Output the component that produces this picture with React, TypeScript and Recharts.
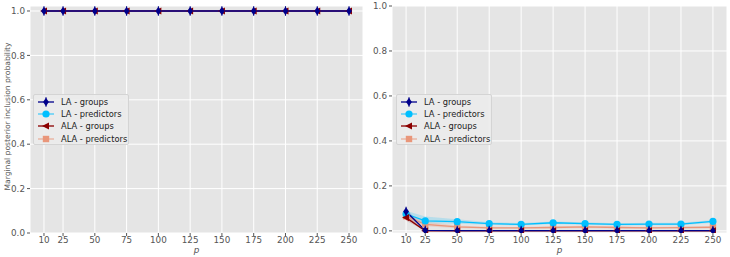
import React from 'react';
import {
  ComposedChart,
  Line,
  Area,
  XAxis,
  YAxis,
  CartesianGrid,
  Legend,
  Label,
} from 'recharts';

const P_VALUES = [10, 25, 50, 75, 100, 125, 150, 175, 200, 225, 250];
const Y_TICKS = [0, 0.2, 0.4, 0.6, 0.8, 1.0];

// left panel: groups only, everything sits at 1.0
const LEFT_LA_GROUPS = [1, 1, 1, 1, 1, 1, 1, 1, 1, 1, 1];
const LEFT_ALA_GROUPS = [1, 1, 1, 1, 1, 1, 1, 1, 1, 1, 1];

// right panel
const RIGHT_LA_GROUPS = [0.086, 0.002, 0.001, 0.001, 0.001, 0.001, 0.001, 0.001, 0.001, 0.001, 0.001];
const RIGHT_LA_PRED = [0.075, 0.044, 0.041, 0.032, 0.029, 0.036, 0.032, 0.029, 0.03, 0.03, 0.042];
const RIGHT_ALA_GROUPS = [0.059, 0, 0, 0, 0, 0, 0, 0, 0, 0, 0];
const RIGHT_ALA_PRED = [0.065, 0.029, 0.018, 0.013, 0.013, 0.015, 0.018, 0.015, 0.013, 0.014, 0.016];

const LA_PRED_LO = [0.06, 0.034, 0.032, 0.027, 0.024, 0.03, 0.027, 0.024, 0.025, 0.025, 0.036];
const LA_PRED_HI = [0.09, 0.064, 0.052, 0.038, 0.035, 0.042, 0.038, 0.034, 0.036, 0.036, 0.048];
const ALA_PRED_LO = [0.05, 0.02, 0.012, 0.009, 0.009, 0.01, 0.012, 0.01, 0.009, 0.01, 0.011];
const ALA_PRED_HI = [0.08, 0.04, 0.024, 0.018, 0.017, 0.02, 0.023, 0.02, 0.017, 0.019, 0.021];
const LA_GROUPS_LO = [0.07, 0, 0, 0, 0, 0, 0, 0, 0, 0, 0];
const LA_GROUPS_HI = [0.1, 0.004, 0.002, 0.002, 0.002, 0.002, 0.002, 0.002, 0.002, 0.002, 0.002];
const ALA_GROUPS_LO = [0.045, 0, 0, 0, 0, 0, 0, 0, 0, 0, 0];
const ALA_GROUPS_HI = [0.072, 0.002, 0.001, 0.001, 0.001, 0.001, 0.001, 0.001, 0.001, 0.001, 0.001];

const SERIES_NAMES = ['LA - groups', 'LA - predictors', 'ALA - groups', 'ALA - predictors'];

const C_LA_G = '#00008b';
const C_LA_P = '#00bfff';
const C_ALA_G = '#8b0000';
const C_ALA_P = '#e9967a';
const SERIES_COLORS = [C_LA_G, C_LA_P, C_ALA_G, C_ALA_P];

const FONT = '"DejaVu Sans", sans-serif';
const TICK_COLOR = '#555555';

const leftData = P_VALUES.map((p, i) => ({
  p,
  laG: LEFT_LA_GROUPS[i],
  alaG: LEFT_ALA_GROUPS[i],
}));

const rightData = P_VALUES.map((p, i) => ({
  p,
  laG: RIGHT_LA_GROUPS[i],
  laP: RIGHT_LA_PRED[i],
  alaG: RIGHT_ALA_GROUPS[i],
  alaP: RIGHT_ALA_PRED[i],
  laPBand: [LA_PRED_LO[i], LA_PRED_HI[i]],
  alaPBand: [ALA_PRED_LO[i], ALA_PRED_HI[i]],
  laGBand: [LA_GROUPS_LO[i], LA_GROUPS_HI[i]],
  alaGBand: [ALA_GROUPS_LO[i], ALA_GROUPS_HI[i]],
}));

// marker shapes (matplotlib-ish: 'd', 'o', '<', 's')
const Marker = ({ kind, cx, cy, color }: { kind: number; cx: number; cy: number; color: string }) => {
  if (kind === 0) {
    return (
      <g>
        <line x1={cx} y1={cy - 4.8} x2={cx} y2={cy + 4.8} stroke={color} strokeWidth={1} />
        <polygon points={`${cx},${cy - 4.2} ${cx + 2.9},${cy} ${cx},${cy + 4.2} ${cx - 2.9},${cy}`} fill={color} />
      </g>
    );
  }
  if (kind === 1) return <circle cx={cx} cy={cy} r={3.6} fill={color} />;
  if (kind === 2) {
    return <polygon points={`${cx - 4},${cy} ${cx + 3},${cy - 3.6} ${cx + 3},${cy + 3.6}`} fill={color} />;
  }
  return <rect x={cx - 3.2} y={cy - 3.2} width={6.4} height={6.4} fill={color} />;
};

const makeDot = (kind: number, color: string) => (props: any) => {
  const { cx, cy, index } = props;
  if (cx == null || cy == null) return <g key={`d${kind}-${index}`} />;
  return (
    <g key={`d${kind}-${index}`}>
      <Marker kind={kind} cx={cx} cy={cy} color={color} />
    </g>
  );
};

const LegendBox = () => (
  <div
    style={{
      width: 96,
      height: 51,
      background: 'rgba(235,235,235,0.9)',
      border: '1px solid #d4d4d4',
      borderRadius: 2,
      boxSizing: 'border-box',
      padding: '1px 0 0 2px',
      fontFamily: FONT,
      fontSize: 8.3,
      color: '#222',
      textAlign: 'left',
    }}
  >
    {SERIES_NAMES.map((name, i) => (
      <div key={name} style={{ display: 'flex', alignItems: 'center', height: 12.2, lineHeight: '12px' }}>
        <svg width={22} height={12} style={{ flex: 'none' }}>
          <line x1={2} y1={6} x2={18} y2={6} stroke={SERIES_COLORS[i]} strokeWidth={1.3} strokeOpacity={i === 1 || i === 3 ? 0.7 : 1} />
          <Marker kind={i} cx={10} cy={6} color={SERIES_COLORS[i]} />
        </svg>
        <span style={{ marginLeft: 3, whiteSpace: 'nowrap' }}>{name}</span>
      </div>
    ))}
  </div>
);

const tickStyle = { fontSize: 8.8, fill: TICK_COLOR, fontFamily: FONT };

const Panel = ({ side }: { side: 'left' | 'right' }) => {
  const isLeft = side === 'left';
  return (
    <ComposedChart
      width={365}
      height={257}
      data={isLeft ? leftData : rightData}
      margin={{ top: 6, right: isLeft ? 2 : 3, bottom: 0, left: 0 }}
    >
      <CartesianGrid fill="#e5e5e5" stroke="#ffffff" strokeWidth={1} />
      <XAxis
        type="number"
        dataKey="p"
        domain={[-1, 261]}
        ticks={P_VALUES}
        interval={0}
        height={24}
        tick={tickStyle}
        tickSize={3}
        tickMargin={1}
        stroke={TICK_COLOR}
        axisLine={false}
        allowDataOverflow
      >
        <Label value="p" position="insideBottom" offset={4} style={{ fontStyle: 'italic', fontSize: 8.8, fill: TICK_COLOR, fontFamily: FONT }} />
      </XAxis>
      <YAxis
        type="number"
        domain={isLeft ? [0, 1.0225] : [-0.0095, 1.0]}
        ticks={Y_TICKS}
        interval={0}
        width={isLeft ? 30 : 27}
        tick={tickStyle}
        tickFormatter={(v: number) => v.toFixed(1)}
        tickSize={3}
        tickMargin={2}
        stroke={TICK_COLOR}
        axisLine={false}
        allowDataOverflow
      >
        {isLeft && (
          <Label
            value="Marginal posterior inclusion probability"
            angle={-90}
            position="center"
            dx={-8}
            dy={-3}
            style={{ fontSize: 7.6, fill: TICK_COLOR, fontFamily: FONT, textAnchor: 'middle' }}
          />
        )}
      </YAxis>
      <Legend
        layout="horizontal"
        align="center"
        verticalAlign="middle"
        content={() => <LegendBox />}
        wrapperStyle={{ left: isLeft ? 33 : 31, top: 94, width: 96, height: 51 }}
      />

      {!isLeft && <Area dataKey="laPBand" stroke="none" fill={C_LA_P} fillOpacity={0.2} isAnimationActive={false} legendType="none" />}
      {!isLeft && <Area dataKey="alaPBand" stroke="none" fill={C_ALA_P} fillOpacity={0.25} isAnimationActive={false} legendType="none" />}
      {!isLeft && <Area dataKey="laGBand" stroke="none" fill={C_LA_G} fillOpacity={0.15} isAnimationActive={false} legendType="none" />}
      {!isLeft && <Area dataKey="alaGBand" stroke="none" fill={C_ALA_G} fillOpacity={0.15} isAnimationActive={false} legendType="none" />}

      {!isLeft && (
        <Line dataKey="alaP" stroke={C_ALA_P} strokeWidth={1.3} dot={makeDot(3, C_ALA_P)} activeDot={false} isAnimationActive={false} />
      )}
      {!isLeft && (
        <Line dataKey="laP" stroke={C_LA_P} strokeWidth={1.3} dot={makeDot(1, C_LA_P)} activeDot={false} isAnimationActive={false} />
      )}
      <Line dataKey="alaG" stroke={C_ALA_G} strokeWidth={1.3} dot={makeDot(2, C_ALA_G)} activeDot={false} isAnimationActive={false} />
      <Line dataKey="laG" stroke={C_LA_G} strokeWidth={1.3} dot={makeDot(0, C_LA_G)} activeDot={false} isAnimationActive={false} />
    </ComposedChart>
  );
};

export default function App() {
  return (
    <div style={{ position: 'absolute', left: 0, top: 0, width: 730, height: 257, background: '#ffffff' }}>
      <div style={{ position: 'absolute', left: 0, top: 0 }}>
        <Panel side="left" />
      </div>
      <div style={{ position: 'absolute', left: 365, top: 0 }}>
        <Panel side="right" />
      </div>
    </div>
  );
}
